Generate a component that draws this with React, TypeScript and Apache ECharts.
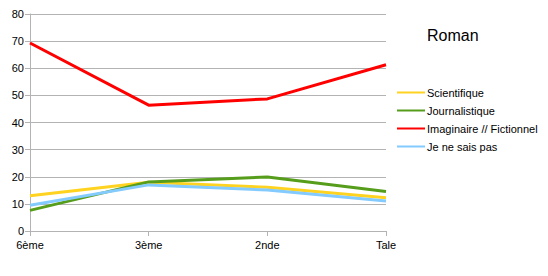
import React, { useEffect, useRef } from "react";
import * as echarts from "echarts";

const categories = ["6ème", "3ème", "2nde", "Tale"];
const scientifique = [13.0, 18.0, 16.1, 12.3];
const journalistique = [7.6, 18.1, 19.9, 14.6];
const imaginaire = [69.3, 46.4, 48.7, 61.3];
const jeNeSaisPas = [9.5, 17.0, 15.1, 11.1];

const seriesDefs = [
  { name: "Scientifique", data: scientifique, color: "#ffd320" },
  { name: "Journalistique", data: journalistique, color: "#579d1c" },
  { name: "Imaginaire // Fictionnel", data: imaginaire, color: "#ff0000" },
  { name: "Je ne sais pas", data: jeNeSaisPas, color: "#83caff" },
];

const FONT = "'Liberation Sans', Arial, sans-serif";

export default function App() {
  const ref = useRef<HTMLDivElement>(null);
  useEffect(() => {
    if (!ref.current) return;
    const chart = echarts.init(ref.current, undefined, { renderer: "svg" });
    chart.setOption({
      animation: false,
      backgroundColor: "#ffffff",
      title: {
        text: "Roman",
        left: 427,
        top: 27,
        padding: 0,
        textStyle: { fontFamily: FONT, fontSize: 16, fontWeight: "normal", color: "#000" },
      },
      legend: {
        orient: "vertical",
        left: 397,
        top: 87,
        padding: 0,
        itemWidth: 28,
        itemHeight: 10,
        itemGap: 7,
        textStyle: { fontFamily: FONT, fontSize: 11, color: "#000", padding: [0, 0, 0, -3] },
        data: seriesDefs.map((s) => ({
          name: s.name,
          icon: "path://M0,4 L28,4 L28,6 L0,6 Z",
          itemStyle: { color: s.color },
        })),
      },
      grid: { left: 30, right: 162, top: 14, bottom: 45, containLabel: false },
      xAxis: {
        type: "category",
        data: categories,
        boundaryGap: false,
        axisLine: { lineStyle: { color: "#b3b3b3", width: 1 } },
        axisTick: { show: true, alignWithLabel: true, length: 5, lineStyle: { color: "#b3b3b3" } },
        axisLabel: { fontFamily: FONT, fontSize: 11, color: "#000", margin: 8 },
        splitLine: { show: false },
      },
      yAxis: {
        type: "value",
        min: 0,
        max: 80,
        interval: 10,
        axisLine: { show: true, lineStyle: { color: "#b3b3b3", width: 1 } },
        axisTick: { show: true, length: 5, lineStyle: { color: "#b3b3b3" } },
        axisLabel: { fontFamily: FONT, fontSize: 11, color: "#000", margin: 6 },
        splitLine: { show: true, lineStyle: { color: "#b3b3b3", width: 1 } },
      },
      series: seriesDefs.map((s) => ({
        name: s.name,
        type: "line",
        data: s.data,
        symbol: "none",
        lineStyle: { color: s.color, width: 3 },
        itemStyle: { color: s.color },
      })),
    });
    return () => chart.dispose();
  }, []);
  return <div ref={ref} style={{ width: 548, height: 276, position: "absolute", left: 0, top: 0 }} />;
}
